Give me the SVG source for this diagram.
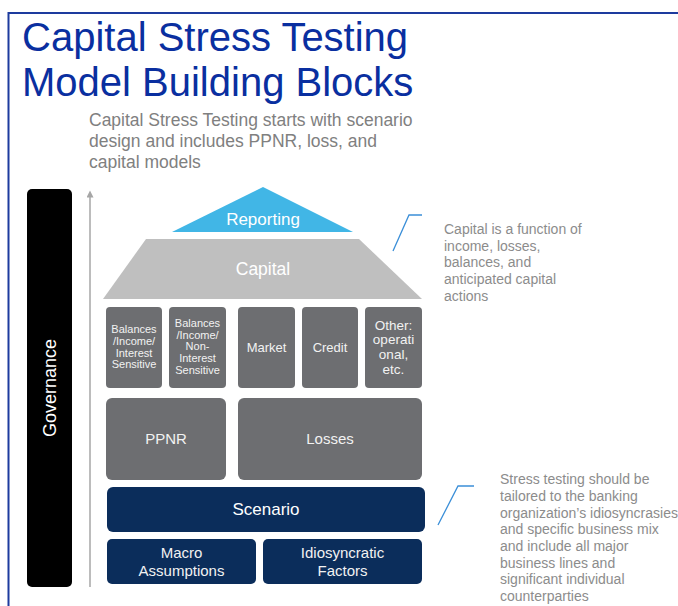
<svg xmlns="http://www.w3.org/2000/svg" width="678" height="606" viewBox="0 0 678 606">
  <defs>
    <marker id="arrowUp" viewBox="0 0 10 10" refX="2" refY="5" markerWidth="8" markerHeight="7" orient="auto" markerUnits="userSpaceOnUse">
      <path d="M0,0 L10,5 L0,10 Z" fill="#a6a6a6"/>
    </marker>
  </defs>
  <style>
    text { font-family: "Liberation Sans", Arial, sans-serif; }
    .title { fill: #0a2fa0; font-size: 40px; }
    .sub { fill: #808080; font-size: 17.5px; }
    .note { fill: #8c8c8c; font-size: 14px; }
    .gbox { fill: #6d6e71; }
    .nbox { fill: #0b2d5b; }
    .lt { fill: #f2f2f2; text-anchor: middle; }
    .wt { fill: #ffffff; text-anchor: middle; }
    .s11 { font-size: 11px; }
    .s13 { font-size: 13px; }
    .s15 { font-size: 15px; }
    .s17 { font-size: 17px; }
    .callout { fill: none; stroke: #3b8fd8; stroke-width: 1.3; }
  </style>

  <rect width="678" height="606" fill="#ffffff"/>

  <!-- frame -->
  <path d="M678,13 H8.5 V606" fill="none" stroke="#1d3b9e" stroke-width="2"/>

  <!-- heading -->
  <text class="title" x="22" y="51">Capital Stress Testing</text>
  <text class="title" x="22" y="96">Model Building Blocks</text>
  <text class="sub" x="89" y="126">Capital Stress Testing starts with scenario</text>
  <text class="sub" x="89" y="147">design and includes PPNR, loss, and</text>
  <text class="sub" x="89" y="168">capital models</text>

  <!-- governance pillar -->
  <g id="governance">
    <rect x="27" y="189" width="45" height="398" rx="5" fill="#000000"/>
    <text class="wt" font-size="18" transform="translate(56,388) rotate(-90)">Governance</text>
  </g>

  <g id="connectors">
    <line x1="90" y1="587" x2="90" y2="196" stroke="#a6a6a6" stroke-width="1.5" marker-end="url(#arrowUp)"/>
    <path class="callout" d="M393,251 L409,215 H422"/>
    <path class="callout" d="M438,525 L458,486 H474"/>
  </g>

  <g id="reporting">
    <polygon points="263,187 353,232 172,232" fill="#41b6e6"/>
    <text class="wt s17" x="263" y="225">Reporting</text>
  </g>

  <g id="capital">
    <polygon points="146,239 359,239 422,299 103,299" fill="#bfbfbf"/>
    <text class="wt" font-size="17.5" x="263" y="275">Capital</text>
  </g>

  <g id="balances-interest">
    <rect class="gbox" x="106" y="307" width="56" height="81" rx="4"/>
    <text class="lt s11" x="134" y="333">Balances</text>
    <text class="lt s11" x="134" y="345">/Income/</text>
    <text class="lt s11" x="134" y="357">Interest</text>
    <text class="lt s11" x="134" y="368">Sensitive</text>
  </g>

  <g id="balances-noninterest">
    <rect class="gbox" x="169" y="307" width="57" height="81" rx="4"/>
    <text class="lt s11" x="197.5" y="327">Balances</text>
    <text class="lt s11" x="197.5" y="339">/Income/</text>
    <text class="lt s11" x="197.5" y="350">Non-</text>
    <text class="lt s11" x="197.5" y="362">Interest</text>
    <text class="lt s11" x="197.5" y="374">Sensitive</text>
  </g>

  <g id="market">
    <rect class="gbox" x="238" y="307" width="57" height="81" rx="4"/>
    <text class="lt s13" x="266.5" y="352">Market</text>
  </g>

  <g id="credit">
    <rect class="gbox" x="302" y="307" width="56" height="81" rx="4"/>
    <text class="lt s13" x="330" y="352">Credit</text>
  </g>

  <g id="other">
    <rect class="gbox" x="365" y="307" width="57" height="81" rx="4"/>
    <text class="lt" font-size="13.5" x="393.5" y="330">Other:</text>
    <text class="lt" font-size="13.5" x="393.5" y="344">operati</text>
    <text class="lt" font-size="13.5" x="393.5" y="359">onal,</text>
    <text class="lt" font-size="13.5" x="393.5" y="374">etc.</text>
  </g>

  <g id="ppnr">
    <rect class="gbox" x="106" y="398" width="120" height="82" rx="6"/>
    <text class="lt s15" x="166" y="444">PPNR</text>
  </g>

  <g id="losses">
    <rect class="gbox" x="238" y="398" width="184" height="82" rx="6"/>
    <text class="lt s15" x="330" y="444">Losses</text>
  </g>

  <g id="scenario">
    <rect class="nbox" x="107" y="487" width="318" height="45" rx="6"/>
    <text class="wt s17" x="266" y="515">Scenario</text>
  </g>

  <g id="macro">
    <rect class="nbox" x="107" y="539" width="149" height="45" rx="5"/>
    <text class="lt s15" x="181.5" y="558">Macro</text>
    <text class="lt s15" x="181.5" y="576">Assumptions</text>
  </g>

  <g id="idiosyncratic">
    <rect class="nbox" x="263" y="539" width="159" height="45" rx="5"/>
    <text class="lt s15" x="342.5" y="558">Idiosyncratic</text>
    <text class="lt s15" x="342.5" y="576">Factors</text>
  </g>

  <g id="capital-note">
    <text class="note" x="444" y="234">Capital is a function of</text>
    <text class="note" x="444" y="251">income, losses,</text>
    <text class="note" x="444" y="267">balances, and</text>
    <text class="note" x="444" y="284">anticipated capital</text>
    <text class="note" x="444" y="301">actions</text>
  </g>

  <g id="scenario-note">
    <text class="note" x="500" y="484">Stress testing should be</text>
    <text class="note" x="500" y="501">tailored to the banking</text>
    <text class="note" x="500" y="518">organization’s idiosyncrasies</text>
    <text class="note" x="500" y="534">and specific business mix</text>
    <text class="note" x="500" y="551">and include all major</text>
    <text class="note" x="500" y="568">business lines and</text>
    <text class="note" x="500" y="584">significant individual</text>
    <text class="note" x="500" y="601">counterparties</text>
  </g>
</svg>
